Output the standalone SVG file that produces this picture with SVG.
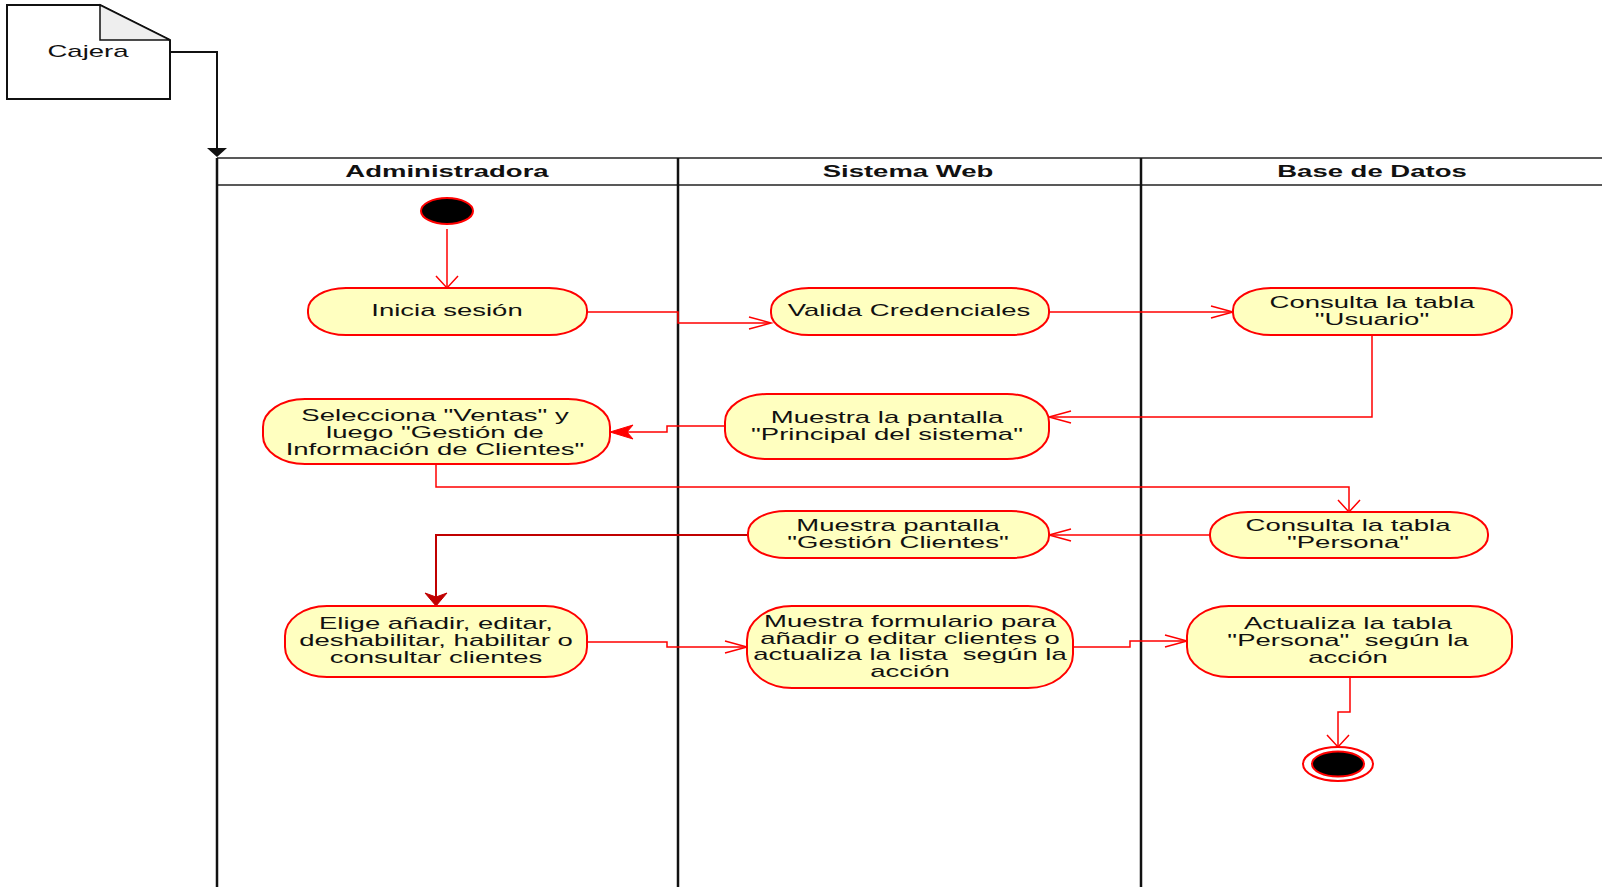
<svg xmlns="http://www.w3.org/2000/svg" width="1602" height="887" viewBox="0 0 1602 887">
<style>
.lane{stroke:#111;stroke-width:2.5;fill:none}
.hline{stroke:#222;stroke-width:1.5;fill:none}
.act{fill:#FFFFC0;stroke:#FF0000;stroke-width:2}
.t{font-family:"Liberation Sans",Arial,sans-serif;font-size:16px;fill:#111;text-anchor:middle}
.h{font-family:"Liberation Sans",Arial,sans-serif;font-size:16px;font-weight:bold;fill:#111;text-anchor:middle}
.c{stroke:#FF0000;stroke-width:1.5;fill:none}
.cd{stroke:#C00000;stroke-width:2;fill:none}
.ah{stroke:#FF0000;stroke-width:1.5;fill:none}
</style>
<rect width="1602" height="887" fill="#ffffff"/>
<g id="cajera">
<polygon points="7,5 100,5 170,40 170,99 7,99" fill="#ffffff" stroke="#111" stroke-width="2"/>
<polygon points="100,5 100,40 170,40" fill="#EEEEEE" stroke="#111" stroke-width="1.5"/>
<text class="t" transform="translate(88,57) scale(1.72,1)">Cajera</text>
</g>
<g id="swimlanes">
<line class="hline" x1="217" y1="158" x2="1602" y2="158"/>
<line class="hline" x1="217" y1="185" x2="1602" y2="185"/>
<line class="lane" x1="217" y1="158" x2="217" y2="887"/>
<line class="lane" x1="678" y1="158" x2="678" y2="887"/>
<line class="lane" x1="1141" y1="158" x2="1141" y2="887"/>
<text class="h" transform="translate(447,177) scale(1.72,1)">Administradora</text>
<text class="h" transform="translate(908,177) scale(1.72,1)">Sistema Web</text>
<text class="h" transform="translate(1372,177) scale(1.72,1)">Base de Datos</text>
</g>
<g id="connectors">
<path d="M170 52 H217 V150" stroke="#111" stroke-width="2" fill="none"/>
<polygon points="207,148 227,148 217,157" fill="#111"/>
<path class="c" d="M447 229 V287"/>
<polyline class="ah" points="436,276 447,288 458,276"/>
<path class="c" d="M587 312 H678 V323 H770"/>
<polyline class="ah" points="749,317 771,323 749,329"/>
<path class="c" d="M1049 312 H1232"/>
<polyline class="ah" points="1211,306 1233,312 1211,318"/>
<path class="c" d="M1372 335 V417 H1050"/>
<polyline class="ah" points="1071,411 1049,417 1071,423"/>
<path class="c" d="M725 426 H667 V432 H615"/>
<polygon points="610,432 633,425 627,432 633,439" fill="#FF0000" stroke="#FF0000" stroke-width="1"/>
<path class="c" d="M436 464 V487 H1349 V511"/>
<polyline class="ah" points="1338,500 1349,512 1360,500"/>
<path class="c" d="M1210 535 H1050"/>
<polyline class="ah" points="1071,529 1049,535 1071,541"/>
<path class="cd" d="M748 535 H436 V598"/>
<polygon points="436,606 425,593 436,597 447,593" fill="#C00000" stroke="#C00000" stroke-width="1"/>
<path class="c" d="M587 642 H667 V647 H746"/>
<polyline class="ah" points="725,641 747,647 725,653"/>
<path class="c" d="M1073 647 H1130 V641 H1186"/>
<polyline class="ah" points="1165,635 1187,641 1165,647"/>
<path class="c" d="M1350 677 V712 H1338 V746" stroke-width="2"/>
<polyline class="ah" points="1327,735 1338,747 1349,735" stroke-width="2"/>
</g>
<g id="inicio">
<ellipse cx="447" cy="211" rx="26" ry="13" fill="#000" stroke="#FF0000" stroke-width="2"/>
</g>
<g id="inicia-sesion">
<rect class="act" x="308" y="288" width="279" height="47" rx="38" ry="22"/>
<text class="t" transform="translate(447,316) scale(1.72,1)">Inicia sesión</text>
</g>
<g id="valida-credenciales">
<rect class="act" x="771" y="288" width="278" height="47" rx="38" ry="22"/>
<text class="t" transform="translate(909,316) scale(1.72,1)">Valida Credenciales</text>
</g>
<g id="consulta-usuario">
<rect class="act" x="1233" y="288" width="279" height="47" rx="38" ry="22"/>
<text class="t" transform="translate(1372,308) scale(1.72,1)"><tspan x="0" y="0">Consulta la tabla</tspan><tspan x="0" y="17">"Usuario"</tspan></text>
</g>
<g id="muestra-principal">
<rect class="act" x="725" y="394" width="324" height="65" rx="42" ry="28"/>
<text class="t" transform="translate(887,423) scale(1.72,1)"><tspan x="0" y="0">Muestra la pantalla</tspan><tspan x="0" y="17.5">"Principal del sistema"</tspan></text>
</g>
<g id="selecciona-ventas">
<rect class="act" x="263" y="399" width="347" height="65" rx="42" ry="28"/>
<text class="t" transform="translate(435,421) scale(1.72,1)"><tspan x="0" y="0">Selecciona "Ventas" y</tspan><tspan x="0" y="17">luego "Gestión de</tspan><tspan x="0" y="34">Información de Clientes"</tspan></text>
</g>
<g id="consulta-persona">
<rect class="act" x="1210" y="512" width="278" height="46" rx="38" ry="22"/>
<text class="t" transform="translate(1348,531) scale(1.72,1)"><tspan x="0" y="0">Consulta la tabla</tspan><tspan x="0" y="17.5">"Persona"</tspan></text>
</g>
<g id="muestra-gestion">
<rect class="act" x="748" y="511" width="301" height="47" rx="38" ry="22"/>
<text class="t" transform="translate(898,531) scale(1.72,1)"><tspan x="0" y="0">Muestra pantalla</tspan><tspan x="0" y="17.5">"Gestión Clientes"</tspan></text>
</g>
<g id="elige-accion">
<rect class="act" x="285" y="606" width="302" height="71" rx="42" ry="30"/>
<text class="t" transform="translate(436,629) scale(1.72,1)"><tspan x="0" y="0">Elige añadir, editar,</tspan><tspan x="0" y="17">deshabilitar, habilitar o</tspan><tspan x="0" y="34">consultar clientes</tspan></text>
</g>
<g id="muestra-formulario">
<rect class="act" x="747" y="606" width="326" height="82" rx="45" ry="34"/>
<text class="t" transform="translate(910,627) scale(1.72,1)"><tspan x="0" y="0">Muestra formulario para</tspan><tspan x="0" y="16.7">añadir o editar clientes o</tspan><tspan x="0" y="33.4" xml:space="preserve">actualiza la lista  según la</tspan><tspan x="0" y="50.1">acción</tspan></text>
</g>
<g id="actualiza-persona">
<rect class="act" x="1187" y="606" width="325" height="71" rx="42" ry="30"/>
<text class="t" transform="translate(1348,629) scale(1.72,1)"><tspan x="0" y="0">Actualiza la tabla</tspan><tspan x="0" y="17" xml:space="preserve">"Persona"  según la</tspan><tspan x="0" y="34">acción</tspan></text>
</g>
<g id="fin">
<ellipse cx="1338" cy="764" rx="35" ry="17" fill="#ffffff" stroke="#FF0000" stroke-width="2"/>
<ellipse cx="1338" cy="764" rx="26" ry="12.5" fill="#000" stroke="#FF0000" stroke-width="2"/>
</g>
</svg>
